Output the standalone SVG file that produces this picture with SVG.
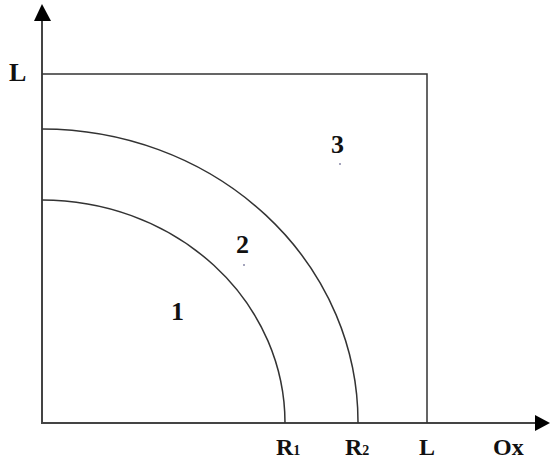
<svg xmlns="http://www.w3.org/2000/svg" width="550" height="461" viewBox="0 0 550 461">
<style>
.ax{stroke:#444;stroke-width:2;fill:none}
.ln{stroke:#333;stroke-width:1.5;fill:none}
.t{font-family:"Liberation Serif","Times New Roman",serif;font-weight:bold;font-size:26px;fill:#111}
.b{font-size:24px}
.s{font-size:14px}
</style>
<rect width="550" height="461" fill="#fff"/>
<g id="connectors">
<line class="ax" x1="42" y1="424" x2="42" y2="18"/>
<polygon points="42,4 34,21 51,21" fill="#000"/>
<line class="ax" x1="42" y1="423" x2="537" y2="423"/>
<polygon points="550,423 535,415 535,431" fill="#000"/>
</g>
<g id="square">
<polyline class="ln" points="42,74 427,74 427,423"/>
</g>
<g id="arc1">
<path class="ln" d="M42,200 A243,223 0 0 1 285,423"/>
</g>
<g id="arc2">
<path class="ln" d="M42,129 A316,293 0 0 1 358,423"/>
</g>
<g id="labels">
<text class="t" x="9" y="81">L</text>
<text class="t b" x="276" y="455">R<tspan class="s">1</tspan></text>
<text class="t b" x="345" y="455">R<tspan class="s">2</tspan></text>
<text class="t b" x="419" y="455">L</text>
<text class="t b" x="493" y="455">Ox</text>
<text class="t" x="171" y="320">1</text>
<text class="t" x="236" y="253">2</text>
<text class="t" x="331" y="153">3</text>
<circle cx="340" cy="164" r="0.8" fill="#336"/>
<circle cx="244" cy="265" r="0.8" fill="#336"/>
</g>
</svg>
